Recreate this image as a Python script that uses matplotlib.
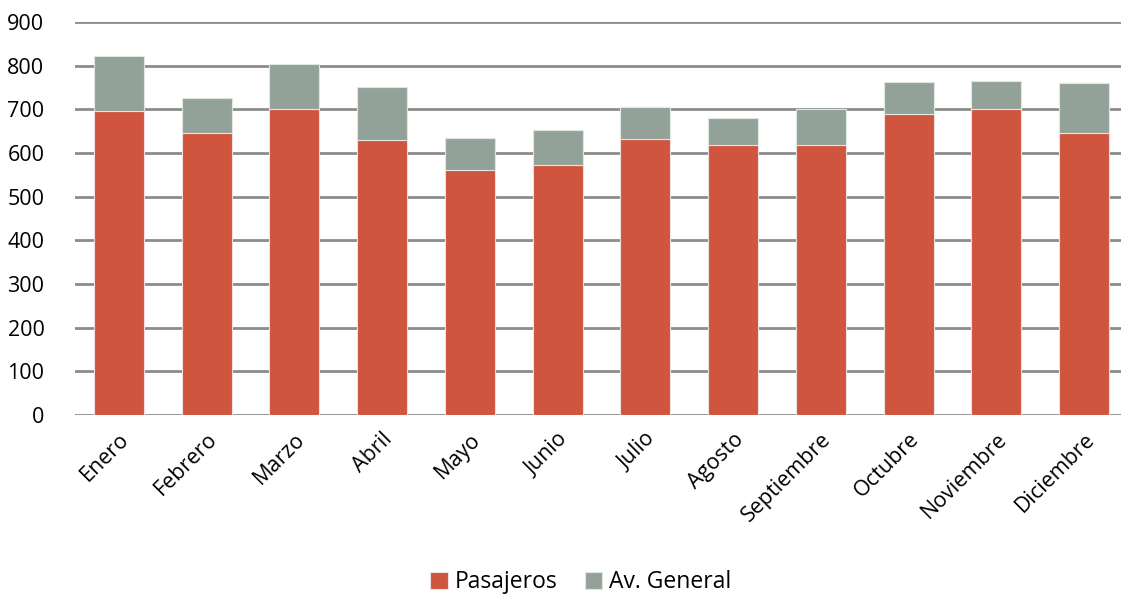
import matplotlib
matplotlib.use("Agg")
import matplotlib.pyplot as plt
import numpy as np

months = ["Enero", "Febrero", "Marzo", "Abril", "Mayo", "Junio", "Julio",
          "Agosto", "Septiembre", "Octubre", "Noviembre", "Diciembre"]
pasajeros = [696, 647, 702, 630, 562, 572, 632, 618, 618, 690, 702, 646]
av_general = [127, 78, 101, 121, 72, 80, 73, 63, 82, 72, 63, 115]
yticks = [0, 100, 200, 300, 400, 500, 600, 700, 800, 900]

plt.rcParams['font.family'] = ['Open Sans', 'DejaVu Sans']

fig = plt.figure(figsize=(11.21, 5.97), dpi=100)
ax = fig.add_axes([75 / 1121, 0.305, 1053 / 1121, 0.658])

x = np.arange(len(months))
w = 0.57
ax.bar(x, pasajeros, w, color='#CF553F', edgecolor='#f0e0dc', linewidth=0.8,
       label='Pasajeros', zorder=3)
ax.bar(x, av_general, w, bottom=pasajeros, color='#93A298', edgecolor='#e0e6e2',
       linewidth=0.8, label='Av. General', zorder=3)

ax.set_ylim(0, 900)
ax.set_xlim(-0.5, len(months) - 0.5)
ax.set_yticks(yticks)
ax.yaxis.grid(True, color='#8c8c8c', linewidth=2, zorder=0)
ax.set_axisbelow(True)
for s in ax.spines.values():
    s.set_visible(False)
ax.tick_params(axis='both', length=0, labelsize=15.5, colors='black')
ax.tick_params(axis='y', pad=22)
ax.set_xticks(x)
ax.set_xticklabels(months, rotation=45, ha='right', rotation_mode='anchor')
ax.tick_params(axis='x', pad=10)

fig.legend(loc='lower center', bbox_to_anchor=(0.518, -0.03), ncol=2, frameon=False,
           fontsize=16.5, handlelength=0.75, handleheight=0.75, handletextpad=0.3,
           columnspacing=1.2)

fig.savefig('out.png', dpi=100)
